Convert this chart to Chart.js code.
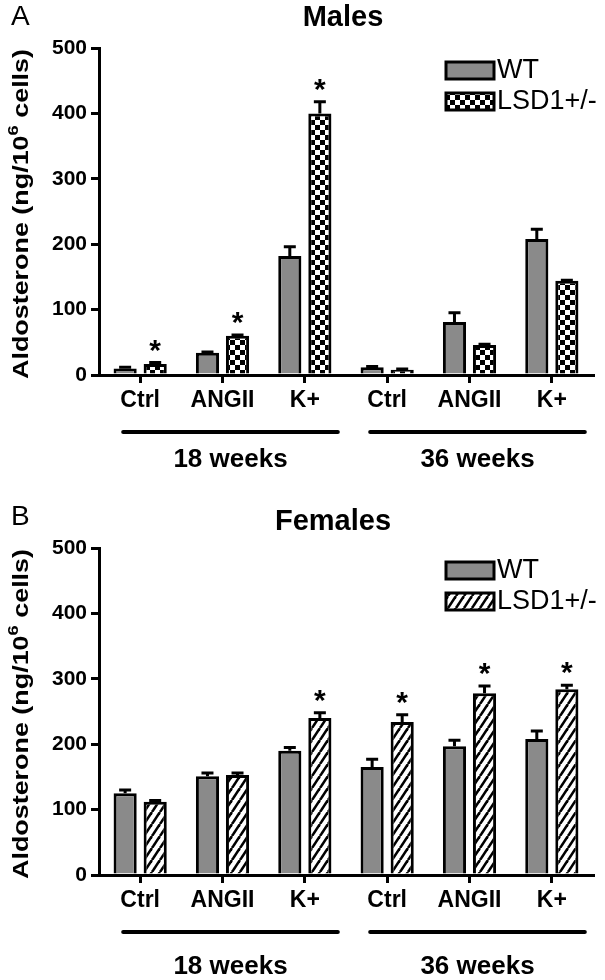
<!DOCTYPE html>
<html lang="en">
<head>
<meta charset="UTF-8">
<title>Aldosterone – Males / Females</title>
<style>
  body { margin: 0; background: #fff; }
  .panel { position: absolute; left: 0; }
  #panelA { top: 0; }
  #panelB { top: 500px; }
</style>
</head>
<body>
<canvas id="panelA" class="panel" width="605" height="490"></canvas>
<canvas id="panelB" class="panel" width="605" height="480"></canvas>

<script src="https://cdn.jsdelivr.net/npm/chart.js"></script>
<script>
// --- data ---
const categories = ['Ctrl', 'ANGII', 'K+', 'Ctrl', 'ANGII', 'K+'];
const groupLabels = ['18 weeks', '36 weeks'];
const groupRanges = [[0, 2], [3, 5]];
const yTicks = [0, 100, 200, 300, 400, 500];
const seriesNames = ['WT', 'LSD1+/-'];

const malesWT = [10, 34, 182, 12, 81, 208];
const malesWTErr = [2, 1, 14, 1, 14, 15];
const malesLSD = [17, 60, 400, 8, 46, 144];
const malesLSDErr = [2, 1, 18, 1, 1, 1];
const malesStars = [true, true, true, false, false, false];

const femalesWT = [125, 151, 190, 165, 197, 208];
const femalesWTErr = [5, 5, 5, 12, 9, 12];
const femalesLSD = [112, 153, 240, 234, 278, 284];
const femalesLSDErr = [2, 3, 8, 11, 11, 6];
const femalesStars = [false, false, true, true, true, true];

const FONT = '"Liberation Sans", Arial, Helvetica, sans-serif';
const GRAY = '#8a8a8a';
const noStars = categories.map(() => false);

// checker fill for the male LSD1+/- bars
function checkerPattern(ctx) {
    const c = document.createElement('canvas');
    c.width = 10; c.height = 10;
    const g = c.getContext('2d');
    g.fillStyle = '#fff';
    g.fillRect(0, 0, 10, 10);
    g.fillStyle = '#000';
    g.fillRect(0, 0, 5, 5);
    g.fillRect(5, 5, 5, 5);
    return ctx.createPattern(c, 'repeat');
}

// diagonal hatch for the female LSD1+/- bars
function hatchPattern(ctx) {
    const w = 8, h = 12;
    const c = document.createElement('canvas');
    c.width = w; c.height = h;
    const g = c.getContext('2d');
    g.fillStyle = '#fff';
    g.fillRect(0, 0, w, h);
    g.strokeStyle = '#000';
    g.lineWidth = 2.6;
    for (const dx of [-w, 0, w]) {
        g.beginPath();
        g.moveTo(dx, h);
        g.lineTo(dx + w, 0);
        g.stroke();
    }
    return ctx.createPattern(c, 'repeat');
}

// everything that is not a bar or an axis: error bars, stars, legend, titles, group lines
const panelDecor = {
    id: 'panelDecor',
    afterDatasetsDraw(chart, args, o) {
        const ctx = chart.ctx;
        const xs = chart.scales.x, ys = chart.scales.y;
        ctx.save();
        ctx.strokeStyle = '#000';
        ctx.fillStyle = '#000';

        // error bars (upper only) and significance stars
        chart.data.datasets.forEach((ds, di) => {
            const meta = chart.getDatasetMeta(di);
            meta.data.forEach((bar, i) => {
                const top = ys.getPixelForValue(ds.data[i] + ds.errors[i]);
                ctx.lineWidth = 3;
                ctx.beginPath();
                ctx.moveTo(bar.x, bar.y);
                ctx.lineTo(bar.x, top);
                ctx.moveTo(bar.x - 6, top);
                ctx.lineTo(bar.x + 6, top);
                ctx.stroke();
                if (ds.stars[i]) {
                    ctx.font = 'bold 30px ' + FONT;
                    ctx.textAlign = 'center';
                    ctx.textBaseline = 'alphabetic';
                    ctx.fillText('*', bar.x, top - 19 + 16);
                }
            });
        });

        // panel letter and title
        ctx.textBaseline = 'middle';
        ctx.textAlign = 'left';
        ctx.font = '28px ' + FONT;
        ctx.fillText(o.letter, 11, 17);
        ctx.textAlign = 'center';
        ctx.font = 'bold 29px ' + FONT;
        ctx.fillText(o.title, o.titleX, o.titleY);

        // legend
        chart.data.datasets.forEach((ds, di) => {
            const by = 62 + di * 31;
            ctx.fillStyle = ds.backgroundColor;
            ctx.fillRect(446, by, 48, 17);
            ctx.lineWidth = 3;
            ctx.strokeRect(446, by, 48, 17);
            ctx.fillStyle = '#000';
            ctx.textAlign = 'left';
            ctx.font = '27px ' + FONT;
            ctx.fillText(ds.label, 497, by + 9);
        });

        // y axis title with superscript
        ctx.save();
        ctx.translate(22, 214);
        ctx.rotate(-Math.PI / 2);
        const main = 'bold 22px ' + FONT, sup = 'bold 15px ' + FONT;
        ctx.font = main;
        const w1 = ctx.measureText('Aldosterone (ng/10').width;
        const w3 = ctx.measureText(' cells)').width;
        ctx.font = sup;
        const w2 = ctx.measureText('6').width;
        const total = w1 + w2 + w3;
        ctx.scale(330 / total, 1);
        ctx.textAlign = 'left';
        ctx.textBaseline = 'middle';
        let px = -total / 2;
        ctx.font = main;
        ctx.fillText('Aldosterone (ng/10', px, 0);
        px += w1;
        ctx.font = sup;
        ctx.fillText('6', px, -8);
        px += w2;
        ctx.font = main;
        ctx.fillText(' cells)', px, 0);
        ctx.restore();

        // group lines and labels under the x axis
        const axisY = ys.getPixelForValue(0);
        groupRanges.forEach((r, gi) => {
            const x0 = xs.getPixelForValue(r[0]) - 17;
            const x1 = xs.getPixelForValue(r[1]) + 33;
            ctx.lineWidth = 4;
            ctx.lineCap = 'round';
            ctx.beginPath();
            ctx.moveTo(x0, axisY + 57);
            ctx.lineTo(x1, axisY + 57);
            ctx.stroke();
            ctx.font = 'bold 26px ' + FONT;
            ctx.textAlign = 'center';
            ctx.textBaseline = 'middle';
            ctx.fillText(groupLabels[gi], (x0 + x1) / 2, axisY + o.weekOffset);
        });
        ctx.restore();
    }
};

function buildChart(id, cfg) {
    const ctx = document.getElementById(id).getContext('2d');
    const h = ctx.canvas.height;
    return new Chart(ctx, {
        type: 'bar',
        data: {
            labels: categories,
            datasets: [
                {
                    label: seriesNames[0], data: cfg.wt, errors: cfg.wtErr, stars: noStars,
                    backgroundColor: GRAY, borderColor: '#000', borderWidth: 3
                },
                {
                    label: seriesNames[1], data: cfg.lsd, errors: cfg.lsdErr, stars: cfg.stars,
                    backgroundColor: cfg.pattern(ctx), borderColor: '#000', borderWidth: 3
                }
            ]
        },
        options: {
            responsive: false,
            animation: false,
            layout: { padding: { top: 48, right: 12, left: 0, bottom: 0 } },
            datasets: { bar: { categoryPercentage: 0.73, barPercentage: 0.77 } },
            plugins: {
                legend: { display: false },
                tooltip: { enabled: false },
                panelDecor: {
                    letter: cfg.letter, title: cfg.title,
                    titleX: cfg.titleX, titleY: cfg.titleY, weekOffset: cfg.weekOffset
                }
            },
            scales: {
                x: {
                    grid: { offset: false, drawOnChartArea: false, drawTicks: true, tickLength: 8, color: '#000', lineWidth: 3 },
                    border: { color: '#000', width: 3 },
                    ticks: { color: '#000', font: { family: FONT, size: 23, weight: 'bold' }, padding: 4, maxRotation: 0, autoSkip: false },
                    afterFit(s) { s.height = h - 375; }
                },
                y: {
                    min: 0, max: 500,
                    afterBuildTicks(s) { s.ticks = yTicks.map(v => ({ value: v })); },
                    grid: { drawOnChartArea: false, tickLength: 8, color: '#000', lineWidth: 3 },
                    border: { color: '#000', width: 3 },
                    ticks: { color: '#000', font: { family: FONT, size: 21, weight: 'bold' }, padding: 4 },
                    afterFit(s) { s.width = 99; }
                }
            }
        },
        plugins: [panelDecor]
    });
}

buildChart('panelA', {
    wt: malesWT, wtErr: malesWTErr, lsd: malesLSD, lsdErr: malesLSDErr, stars: malesStars,
    pattern: checkerPattern, letter: 'A', title: 'Males', titleX: 343, titleY: 18, weekOffset: 85
});
buildChart('panelB', {
    wt: femalesWT, wtErr: femalesWTErr, lsd: femalesLSD, lsdErr: femalesLSDErr, stars: femalesStars,
    pattern: hatchPattern, letter: 'B', title: 'Females', titleX: 333, titleY: 22, weekOffset: 92
});
</script>
</body>
</html>
